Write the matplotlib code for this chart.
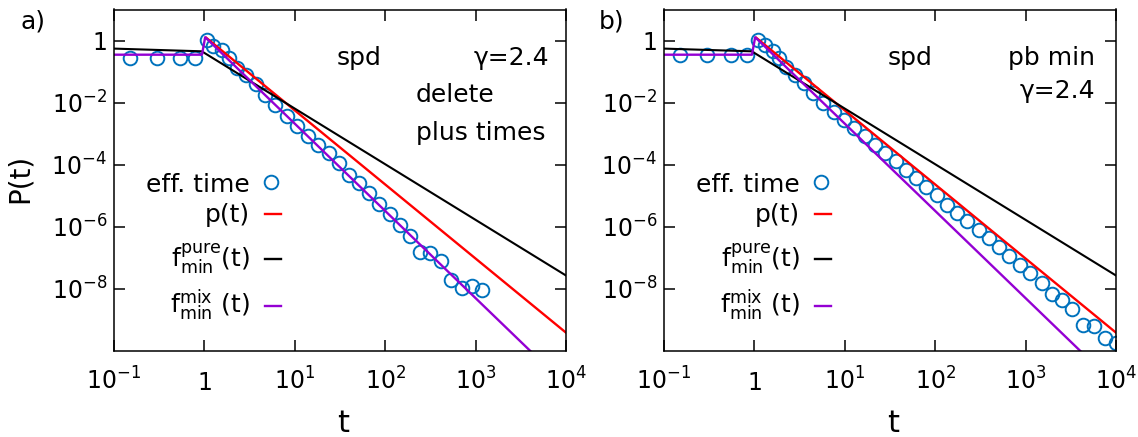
import numpy as np
import matplotlib
matplotlib.use("Agg")
import matplotlib.pyplot as plt
from matplotlib.lines import Line2D
from matplotlib.ticker import NullLocator

plt.rcParams['font.family'] = ['DejaVu Sans']
plt.rcParams['mathtext.fontset'] = 'dejavusans'

W, H = 1138, 437

# lines (same in both panels)
t_pure = [0.1, 0.935, 1e4]
p_pure = [0.55, 0.45, 2.7e-8]
t_p = [1.05, 1e4]
p_p = [1.22, 3.9e-10]
t_mix = [0.1, 0.94, 1.02, 1e4]
p_mix = [0.35, 0.35, 1.28, 7.8e-12]

# eff. time points, log10(t) and log10(P)
logt_a = [-0.823, -0.527, -0.269, -0.103, 0.026, 0.10, 0.193, 0.277, 0.365, 0.462, 0.573, 0.672, 0.783,
          0.912, 1.023, 1.141, 1.262, 1.373, 1.484, 1.595, 1.705, 1.816, 1.927, 2.049, 2.167, 2.278,
          2.389, 2.50, 2.618, 2.731, 2.85, 2.96, 3.072]
logP_a = [-0.55, -0.55, -0.55, -0.55, 0.03, -0.18, -0.32, -0.56, -0.88, -1.10, -1.39, -1.74, -2.08,
          -2.44, -2.76, -3.08, -3.35, -3.62, -3.94, -4.32, -4.58, -4.90, -5.28, -5.60, -5.93, -6.30,
          -6.82, -6.84, -7.11, -7.70, -7.96, -7.92, -8.04]

logt_b = [-0.828, -0.525, -0.263, -0.08, 0.044, 0.118, 0.204, 0.277, 0.351, 0.45, 0.55, 0.653, 0.764,
          0.878, 0.992, 1.106, 1.219, 1.333, 1.447, 1.561, 1.675, 1.789, 1.903, 2.017,
          2.131, 2.242, 2.352, 2.481, 2.592, 2.702, 2.813, 2.942, 3.053, 3.183, 3.293, 3.404, 3.515,
          3.637, 3.757, 3.878, 4.0]
logP_b = [-0.45, -0.45, -0.45, -0.45, 0.03, -0.15, -0.33, -0.56, -0.84, -1.10, -1.38, -1.68, -2.00,
          -2.30, -2.55, -2.81, -3.08, -3.35, -3.61, -3.89, -4.17, -4.43, -4.71, -4.98,
          -5.30, -5.54, -5.81, -6.10, -6.37, -6.64, -6.93, -7.22, -7.50, -7.81, -8.15, -8.36, -8.65,
          -9.15, -9.21, -9.57, -9.73]

xticks = [1e-1, 1, 1e1, 1e2, 1e3, 1e4]
xticklabels = [r'10$\mathregular{^{-1}}$', '1', r'10$\mathregular{^{1}}$', r'10$\mathregular{^{2}}$',
               r'10$\mathregular{^{3}}$', r'10$\mathregular{^{4}}$']
yticks = [1e-8, 1e-6, 1e-4, 1e-2, 1]
yticklabels = [r'10$\mathregular{^{-8}}$', r'10$\mathregular{^{-6}}$', r'10$\mathregular{^{-4}}$',
               r'10$\mathregular{^{-2}}$', '1']

labels = ['eff. time', 'p(t)', r'f$\mathregular{^{pure}_{min}}$(t)', r'f$\mathregular{^{mix}_{min}}$ (t)']
c_eff = '#0072bd'
c_p = '#ff0000'
c_pure = '#000000'
c_mix = '#9400d3'
ms = 9.8


def fx(x):
    return x / W


def fy(y):
    return 1 - y / H


fig = plt.figure(figsize=(W / 100, H / 100), dpi=100)


def panel(x0, logt, logP):
    ax = fig.add_axes([fx(x0), fy(351), 452 / W, 341.5 / H])
    ax.set_xscale('log')
    ax.set_yscale('log')
    ax.plot(10 ** np.array(logt), 10 ** np.array(logP), 'o', mfc='none', mec=c_eff, ms=ms, mew=1.4)
    ax.plot(t_p, p_p, color=c_p, lw=1.7)
    ax.plot(t_pure, p_pure, color=c_pure, lw=1.5)
    ax.plot(t_mix, p_mix, color=c_mix, lw=1.7)
    ax.set_xlim(0.1, 1e4)
    ax.set_ylim(1e-10, 10)
    ax.set_xticks(xticks)
    ax.set_xticklabels(xticklabels)
    ax.set_yticks(yticks)
    ax.set_yticklabels(yticklabels)
    ax.xaxis.set_minor_locator(NullLocator())
    ax.yaxis.set_minor_locator(NullLocator())
    ax.tick_params(direction='in', length=8, width=1.1, top=True, right=True, labelsize=17)
    ax.tick_params(axis='x', pad=28)
    ax.tick_params(axis='y', pad=5)
    for lab in ax.get_xticklabels():
        lab.set_va('baseline')
    for s in ax.spines.values():
        s.set_linewidth(1.1)

    # key, gnuplot style: text right-aligned, sample on the right
    xr = x0 + 136
    base = [192, 222, 267, 313]
    mid = [182, 214, 259, 306]
    for lab, b in zip(labels, base):
        fig.text(fx(xr), fy(b), lab, ha='right', va='baseline', fontsize=18)
    fig.add_artist(Line2D([fx(x0 + 157)], [fy(mid[0])], marker='o', mfc='none', mec=c_eff,
                          ms=ms, mew=1.4, transform=fig.transFigure))
    for col, m in zip([c_p, c_pure, c_mix], mid[1:]):
        fig.add_artist(Line2D([fx(x0 + 151), fx(x0 + 167)], [fy(m), fy(m)], color=col, lw=1.7,
                              transform=fig.transFigure))
    fig.text(fx(x0 + 229), fy(432), 't', ha='center', va='baseline', fontsize=22)
    return ax


axa = panel(114, logt_a, logP_a)
axb = panel(664, logt_b, logP_b)

fig.text(fx(20), fy(178), 'P(t)', rotation=90, ha='center', va='center', fontsize=20)
fig.text(fx(20), fy(29), 'a)', ha='left', va='baseline', fontsize=18)
fig.text(fx(599), fy(29), 'b)', ha='left', va='baseline', fontsize=18)

fig.text(fx(359), fy(65), 'spd', ha='center', va='baseline', fontsize=18)
fig.text(fx(549), fy(65), 'γ=2.4', ha='right', va='baseline', fontsize=18)
fig.text(fx(416), fy(102), 'delete', ha='left', va='baseline', fontsize=18)
fig.text(fx(416), fy(140), 'plus times', ha='left', va='baseline', fontsize=18)

fig.text(fx(910), fy(65), 'spd', ha='center', va='baseline', fontsize=18)
fig.text(fx(1095), fy(65), 'pb min', ha='right', va='baseline', fontsize=18)
fig.text(fx(1095), fy(98), 'γ=2.4', ha='right', va='baseline', fontsize=18)

fig.savefig('out.png', dpi=100)
